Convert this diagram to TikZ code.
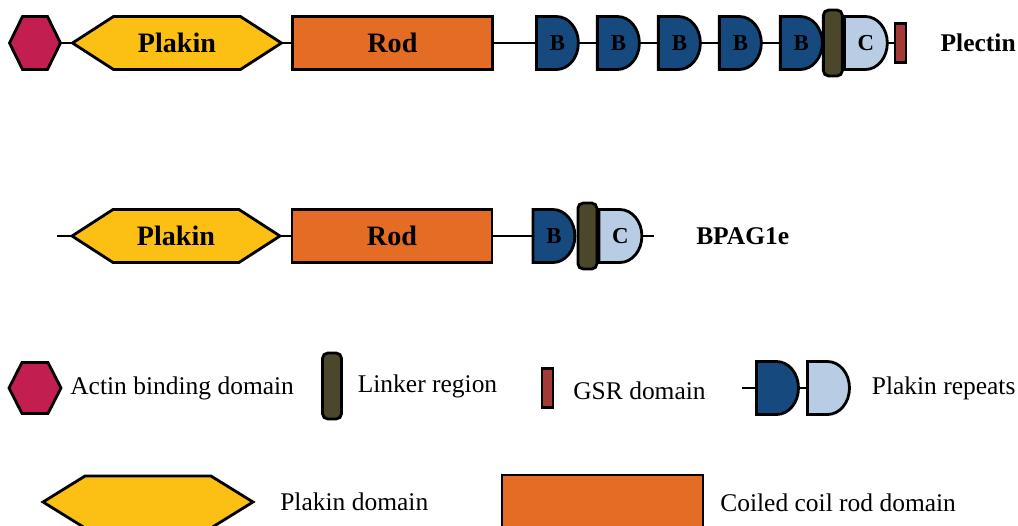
\documentclass[tikz,border=0pt]{standalone}
\usepackage{fontspec}
\setmainfont{Liberation Serif}
\usetikzlibrary{positioning,calc,backgrounds}
\definecolor{abdred}{RGB}{194,30,79}
\definecolor{plakinyellow}{RGB}{251,192,19}
\definecolor{rodorange}{RGB}{228,108,36}
\definecolor{repblue}{RGB}{22,73,126}
\definecolor{replight}{RGB}{184,204,228}
\definecolor{linkolive}{RGB}{75,71,42}
\definecolor{gsrred}{RGB}{163,58,54}
\tikzset{domainbox/.style={inner sep=0pt,outer sep=0pt,minimum height=1.06cm},
         domline/.style={line width=1.6pt,line join=miter},
         conn/.style={line width=1.2pt},
         domtext/.style={font=\bfseries\fontsize{16}{18}\selectfont},
         protname/.style={inner sep=0pt,font=\bfseries\fontsize{14.5}{17}\selectfont},
         keytext/.style={inner sep=0pt,font=\fontsize{14.5}{17}\selectfont},
         repeatbox/.style={domainbox,minimum width=0.84cm,font=\bfseries\fontsize{13}{15}\selectfont},
         rodbox/.style={draw,domline,fill=rodorange,inner sep=0pt,outer sep=0pt,minimum width=4cm,minimum height=1.06cm,domtext},
         linkerbox/.style={draw,domline,fill=linkolive,rounded corners=3pt,inner sep=0pt,outer sep=0pt,minimum width=0.38cm,minimum height=1.32cm},
         gsrbox/.style={draw,line width=1.3pt,fill=gsrred,inner sep=0pt,outer sep=0pt,minimum width=0.22cm,minimum height=0.78cm}
}
% hexagon on a box: node, tip depth, colour
\newcommand{\hexdom}[3]{\draw[domline,fill=#3] (#1.west) -- ($(#1.north west)+(#2,0)$) -- ($(#1.north east)-(#2,0)$) -- (#1.east) -- ($(#1.south east)-(#2,0)$) -- ($(#1.south west)+(#2,0)$) -- cycle;}
% plakin repeat on a box: node, colour
\newcommand{\repdom}[2]{\draw[domline,fill=#2] (#1.south west) -- (#1.north west) -- ($(#1.north east)-(22,0)$) arc[start angle=90,end angle=-90,x radius=0.44cm,y radius=0.53cm] -- cycle;}

\begin{document}
\begin{tikzpicture}[x=0.02cm,y=-0.02cm]
\useasboundingbox (0,0) rectangle (1018,525);
\clip (0,0) rectangle (1018,525);

% plectin
\node[domainbox,minimum width=1.02cm] (abd1) at (35,43) {};
\node[domainbox,domtext,minimum width=4.18cm,right=0.24cm of abd1] (pk1) {Plakin};
\node[rodbox,right=0.22cm of pk1] (rod1) {Rod};
\node[repeatbox,right=0.88cm of rod1] (b1) {B};
\node[repeatbox,right=0.38cm of b1] (b2) {B};
\node[repeatbox,right=0.38cm of b2] (b3) {B};
\node[repeatbox,right=0.38cm of b3] (b4) {B};
\node[repeatbox,right=0.38cm of b4] (b5) {B};
\node[linkerbox,right=0.02cm of b5] (lnk1) {};
\node[repeatbox,minimum width=0.86cm,right=0.04cm of lnk1] (c1) {C};
\node[gsrbox,right=0.16cm of c1] (gsr1) {};
\node[protname,right=0.68cm of gsr1] (plectin) {Plectin};
\draw[conn] (abd1)--(pk1);
\draw[conn] (pk1)--(rod1);
\draw[conn] (rod1)--(b1);
\draw[conn] (b1)--(b2);
\draw[conn] (b2)--(b3);
\draw[conn] (b3)--(b4);
\draw[conn] (b4)--(b5);
\draw[conn] (c1)--(gsr1);

% bpag1e
\coordinate (s2) at (57,236);
\node[domainbox,domtext,minimum width=4.16cm] (pk2) at (176,236) {Plakin};
\node[rodbox,right=0.24cm of pk2] (rod2) {Rod};
\node[repeatbox,right=0.82cm of rod2] (b6) {B};
\node[linkerbox,right=0.06cm of b6] (lnk2) {};
\node[repeatbox,minimum width=0.86cm,right=0.04cm of lnk2] (c2) {C};
\coordinate[right=0.24cm of c2] (e2);
\node[protname,right=1.08cm of c2] (bpag) {BPAG1e};
\draw[conn] (s2)--(pk2);
\draw[conn] (pk2)--(rod2);
\draw[conn] (rod2)--(b6);
\draw[conn] (c2)--(e2);

% legend
\node[domainbox,minimum width=1.04cm,minimum height=1.02cm] (abd0) at (35,388) {};
\node[keytext,right=0.18cm of abd0] (abdkey) {Actin binding domain};
\node[linkerbox] (lnk0) at (332,386) {};
\node[keytext,right=0.32cm of lnk0] (lnkkey) {Linker region};
\node[gsrbox] (gsr0) at (547.5,388) {};
\node[keytext,right=0.4cm of gsr0,yshift=-0.05cm] (gsrkey) {GSR domain};
\coordinate (r0) at (742,388);
\node[repeatbox] (b0) at (777.5,388) {};
\node[repeatbox,right=0.18cm of b0] (c0) {};
\node[keytext,right=0.44cm of c0] (repkey) {Plakin repeats};
\draw[conn] (r0)--(b0);
\draw[conn] (b0)--(c0);
\node[domainbox,minimum width=4.2cm,minimum height=1.04cm] (pk0) at (148,502) {};
\node[keytext,right=0.54cm of pk0] (pkkey) {Plakin domain};
\node[rodbox,minimum width=4.02cm,minimum height=1.1cm] (rod0) at (602.5,502.5) {};
\node[keytext,right=0.34cm of rod0] (rodkey) {Coiled coil rod domain};

\begin{scope}[on background layer]
\clip (0,0) rectangle (1018,525);
\hexdom{abd1}{13}{abdred}
\hexdom{pk1}{41}{plakinyellow}
\hexdom{pk2}{41}{plakinyellow}
\hexdom{abd0}{13}{abdred}
\hexdom{pk0}{42}{plakinyellow}
\repdom{b1}{repblue}
\repdom{b2}{repblue}
\repdom{b3}{repblue}
\repdom{b4}{repblue}
\repdom{b5}{repblue}
\repdom{b6}{repblue}
\repdom{b0}{repblue}
\repdom{c1}{replight}
\repdom{c2}{replight}
\repdom{c0}{replight}
\end{scope}
\end{tikzpicture}
\end{document}
